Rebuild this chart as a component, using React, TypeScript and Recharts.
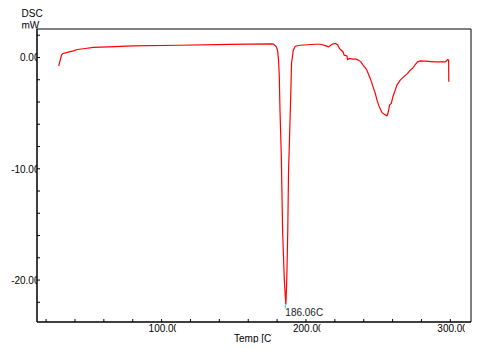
import React from "react";
import {
  LineChart,
  Line,
  XAxis,
  YAxis,
  ReferenceArea,
  ReferenceDot,
  Label,
} from "recharts";

// DSC trace: temperature [C] and heat flow [mW]
const temps = [
  28.7, 30.7, 31.7, 35.4, 38.9, 41.6, 47.2, 52.7, 63.1, 80.4,
  112.3, 146.9, 176.5, 177.7, 179.4, 180.3, 181.0, 181.5, 182.0, 182.9,
  183.8, 185.0, 185.7, 186.06, 186.7, 187.4, 187.9, 188.9, 189.6, 190.0,
  191.2, 192.6, 196.1, 206.4, 209.9, 213.3, 215.7, 218.0, 220.3, 221.9,
  223.3, 225.6, 226.5, 228.4, 228.8, 230.2, 232.5, 234.8, 236.4, 238.1,
  239.5, 241.1, 242.2, 243.4, 244.5, 245.7, 246.8, 248.0, 249.2, 250.3,
  251.5, 252.6, 254.2, 256.1, 256.8, 257.9, 259.1, 260.2, 261.8, 263.0,
  265.3, 267.6, 270.4, 272.2, 274.1, 275.7, 277.3, 279.2, 282.6, 288.9,
  296.5, 298.1, 298.8, 298.9,
];
const dsc = [
  -0.78, 0.21, 0.36, 0.48, 0.59, 0.72, 0.81, 0.9, 0.95, 1.04,
  1.1, 1.17, 1.23, 1.19, 0.97, 0.65, -0.24, -1.59, -4.73, -8.76,
  -15.5, -20.0, -21.5, -22.2, -20.0, -15.5, -10.4, -5.9, -2.66, -0.51,
  0.65, 1.01, 1.1, 1.19, 1.19, 1.06, 0.95, 1.19, 1.26, 1.15,
  0.79, 0.52, 0.21, 0.14, -0.18, -0.09, -0.15, -0.15, -0.24, -0.39,
  -0.69, -0.93, -1.14, -1.52, -1.88, -2.33, -2.78, -3.23, -3.83, -4.28,
  -4.64, -4.93, -5.11, -5.24, -5.02, -4.28, -4.13, -3.53, -2.93, -2.48,
  -2.03, -1.74, -1.43, -1.14, -0.93, -0.63, -0.39, -0.3, -0.33, -0.39,
  -0.39, -0.18, -0.24, -2.19,
];

const xTicks = [20, 40, 60, 80, 100, 120, 140, 160, 180, 200, 220, 240, 260, 280, 300];
const xMajor = [100, 200, 300];
const yTicks = [-22, -20, -18, -16, -14, -12, -10, -8, -6, -4, -2, 0, 2];
const yMajor = [-20, -10, 0];
const xDomain: [number, number] = [13.7, 314.3];
const yDomain: [number, number] = [-23.77, 2.56];

const peakT = 186.06;
const peakV = -22.2;
const peakText = "186.06C";

const data = temps.map((t, i) => ({ t, v: dsc[i] }));

const FONT = "'Liberation Sans', Arial, sans-serif";

function XTick(props: any) {
  const { x, y, payload } = props;
  const val = payload.value;
  const id = `xc${val}`;
  return (
    <g>
      <line x1={x} x2={x} y1={y} y2={y - 3} stroke="#000" />
      {xMajor.includes(val) && (
        <>
          <defs>
            <clipPath id={id}>
              <rect x={x - 14} y={y} width={28.5} height={16} />
            </clipPath>
          </defs>
          <text x={x - 13} y={y + 10} fontSize={10} fontFamily={FONT} fill="#000" clipPath={`url(#${id})`}>
            {val.toFixed(2)}
          </text>
        </>
      )}
    </g>
  );
}

function YTick(props: any) {
  const { x, y, payload } = props;
  const val = payload.value;
  const id = `yc${String(val).replace("-", "m")}`;
  return (
    <g>
      <line x1={x} x2={x + 3} y1={y} y2={y} stroke="#000" />
      {yMajor.includes(val) && (
        <>
          <defs>
            <clipPath id={id}>
              <rect x={0} y={y - 8} width={x} height={16} />
            </clipPath>
          </defs>
          <text x={x + 2.5} y={y + 4} textAnchor="end" fontSize={10} fontFamily={FONT} fill="#000" clipPath={`url(#${id})`}>
            {val.toFixed(2)}
          </text>
        </>
      )}
    </g>
  );
}

function YTitle(props: any) {
  const { viewBox } = props;
  const { y } = viewBox;
  return (
    <g fontFamily={FONT} fontSize={10} fill="#000">
      <text x={21.5} y={y - 12}>DSC</text>
      <defs>
        <clipPath id="mwclip">
          <rect x={0} y={0} width={60} height={y - 0.5} />
        </clipPath>
      </defs>
      <text x={21.5} y={y - 0.5} clipPath="url(#mwclip)">mW</text>
    </g>
  );
}

function XTitle(props: any) {
  const { viewBox } = props;
  const cx = viewBox.x + viewBox.width / 2;
  const y = viewBox.y;
  return (
    <g>
      <defs>
        <clipPath id="tclip">
          <rect x={cx - 30} y={y + 8} width={47.5} height={13} />
        </clipPath>
      </defs>
      <text x={cx} y={y + 20} textAnchor="middle" fontSize={10} fontFamily={FONT} fill="#000" clipPath="url(#tclip)">
        Temp [C]
      </text>
    </g>
  );
}

function PeakMark(props: any) {
  const { cx, cy } = props;
  return (
    <g>
      <line x1={cx - 0.5} x2={cx - 0.5} y1={cy} y2={cy + 4} stroke="#00e0e0" />
      <text x={cx - 0.5} y={cy + 11} fontSize={10} fontFamily={FONT} fill="#222">
        {peakText}
      </text>
    </g>
  );
}

export default function App() {
  return (
    <div style={{ position: "absolute", left: 0, top: 0, width: 490, height: 349, background: "#fff" }}>
      <LineChart width={490} height={349} data={data} margin={{ top: 29, right: 19, bottom: 0, left: 0 }}>
        <XAxis
          dataKey="t"
          type="number"
          domain={xDomain}
          ticks={xTicks}
          interval={0}
          allowDataOverflow
          height={27}
          tickSize={0}
          tickMargin={0}
          tickLine={false}
          axisLine={{ stroke: "#000" }}
          tick={<XTick />}
        >
          <Label content={<XTitle />} />
        </XAxis>
        <YAxis
          type="number"
          domain={yDomain}
          ticks={yTicks}
          interval={0}
          allowDataOverflow
          width={37}
          tickSize={0}
          tickMargin={0}
          tickLine={false}
          axisLine={{ stroke: "#000" }}
          tick={<YTick />}
        >
          <Label content={<YTitle />} />
        </YAxis>
        <ReferenceArea
          x1={xDomain[0]}
          x2={xDomain[1]}
          y1={yDomain[0]}
          y2={yDomain[1]}
          fill="none"
          stroke="#000"
          fillOpacity={0}
        />
        <Line
          type="linear"
          dataKey="v"
          stroke="#ff0000"
          strokeWidth={1.2}
          dot={false}
          isAnimationActive={false}
        />
        <ReferenceDot x={peakT} y={peakV} r={0} shape={<PeakMark />} />
      </LineChart>
    </div>
  );
}
